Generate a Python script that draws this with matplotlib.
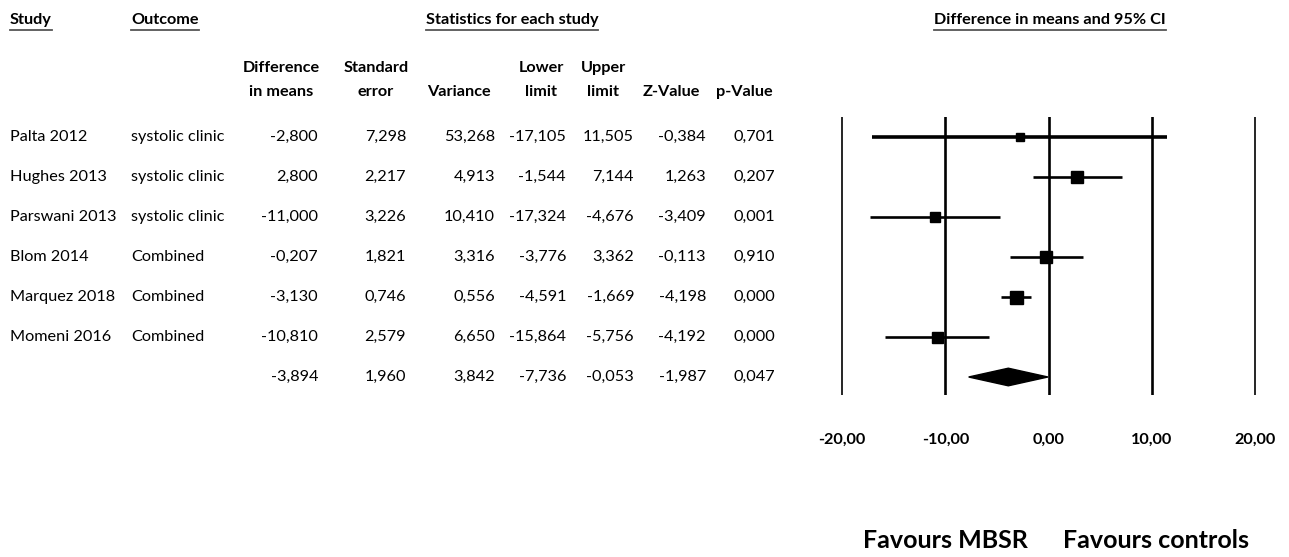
import matplotlib
matplotlib.use('Agg')
import matplotlib.pyplot as plt
from matplotlib.lines import Line2D
from matplotlib.patches import Polygon

plt.rcParams['font.family'] = ['Lato', 'DejaVu Sans']

# data
studies = ['Palta 2012', 'Hughes 2013', 'Parswani 2013', 'Blom 2014', 'Marquez 2018', 'Momeni 2016']
outcomes = ['systolic clinic', 'systolic clinic', 'systolic clinic', 'Combined', 'Combined', 'Combined']
diff = [-2.800, 2.800, -11.000, -0.207, -3.130, -10.810]
se = [7.298, 2.217, 3.226, 1.821, 0.746, 2.579]
variance = [53.268, 4.913, 10.410, 3.316, 0.556, 6.650]
lower = [-17.105, -1.544, -17.324, -3.776, -4.591, -15.864]
upper = [11.505, 7.144, -4.676, 3.362, -1.669, -5.756]
zval = [-0.384, 1.263, -3.409, -0.113, -4.198, -4.192]
pval = [0.701, 0.207, 0.001, 0.910, 0.000, 0.000]

# pooled
pooled = [-3.894, 1.960, 3.842, -7.736, -0.053, -1.987, 0.047]

xticks = [-20, -10, 0, 10, 20]

W, H = 1289, 557
fig = plt.figure(figsize=(W / 100, H / 100), dpi=100)
FS = 11.7


def px(x, y):
    return x / W, 1 - y / H


def ftext(x, y, s, **kw):
    return fig.text(*px(x, y), s, va='center', fontsize=FS, **kw)


def fmt(v):
    return f'{v:.3f}'.replace('.', ',')


# headers (underlined)
underlined = []
underlined.append(ftext(10, 20, 'Study', ha='left', weight='bold'))
underlined.append(ftext(131, 20, 'Outcome', ha='left', weight='bold'))
underlined.append(ftext(512, 20, 'Statistics for each study', ha='center', weight='bold'))
underlined.append(ftext(1050, 20, 'Difference in means and 95% CI', ha='center', weight='bold'))

col_heads = [('Difference', 'in means', 281), ('Standard', 'error', 376), ('', 'Variance', 459),
             ('Lower', 'limit', 541), ('Upper', 'limit', 603), ('', 'Z-Value', 671), ('', 'p-Value', 744)]
for top, bot, cx in col_heads:
    if top:
        ftext(cx, 68, top, ha='center', weight='bold')
    ftext(cx, 92, bot, ha='center', weight='bold')

right_edges = [318, 406, 495, 566, 634, 706, 775]
row_y = [137 + 40 * i for i in range(7)]

for i in range(len(studies)):
    ftext(10, row_y[i], studies[i], ha='left')
    ftext(131, row_y[i], outcomes[i], ha='left')
    vals = [diff[i], se[i], variance[i], lower[i], upper[i], zval[i], pval[i]]
    for v, xr in zip(vals, right_edges):
        ftext(xr, row_y[i], fmt(v), ha='right')
for v, xr in zip(pooled, right_edges):
    ftext(xr, row_y[6], fmt(v), ha='right')

# forest plot axes
x0 = 1048.5 - 22 * 10.32
x1 = 1048.5 + 22 * 10.32
ax = fig.add_axes([x0 / W, 1 - 395 / H, (x1 - x0) / W, (395 - 117) / H])
ax.set_xlim(-22, 22)
ax.set_ylim(6.45, -0.5)
for s in ax.spines.values():
    s.set_visible(False)
ax.set_yticks([])

for t in xticks:
    lw = 1.2 if abs(t) == 20 else 1.9
    ax.axvline(t, color='black', lw=lw, zorder=1)

box_size = [8, 12, 10, 12, 13, 11]
for i in range(len(studies)):
    lw = 2.6 if i == 0 else 1.9
    ax.plot([lower[i], upper[i]], [i, i], color='black', lw=lw, solid_capstyle='butt', zorder=2)
    ax.plot(diff[i], i, marker='s', color='black', ms=box_size[i] * 0.72, zorder=3)

dia = Polygon([(pooled[3], 6), (pooled[0], 6 - 0.22), (pooled[4], 6), (pooled[0], 6 + 0.22)],
              closed=True, color='black', zorder=3)
ax.add_patch(dia)

ax.set_xticks(xticks)
ax.set_xticklabels([f'{t:.2f}'.replace('.', ',') for t in xticks], fontsize=FS, weight='bold')
ax.tick_params(axis='x', length=0, pad=27)

fig.text(*px(945, 540), 'Favours MBSR', ha='center', va='center', fontsize=18, weight='bold')
fig.text(*px(1156, 540), 'Favours controls', ha='center', va='center', fontsize=18, weight='bold')

# underlines under headers
fig.canvas.draw()
r = fig.canvas.get_renderer()
for t in underlined:
    bb = t.get_window_extent(r)
    y = bb.y0 - 3
    fig.add_artist(Line2D([bb.x0 / W, bb.x1 / W], [y / H, y / H], color='#555555', lw=1.3))

fig.savefig('out.png', dpi=100)
